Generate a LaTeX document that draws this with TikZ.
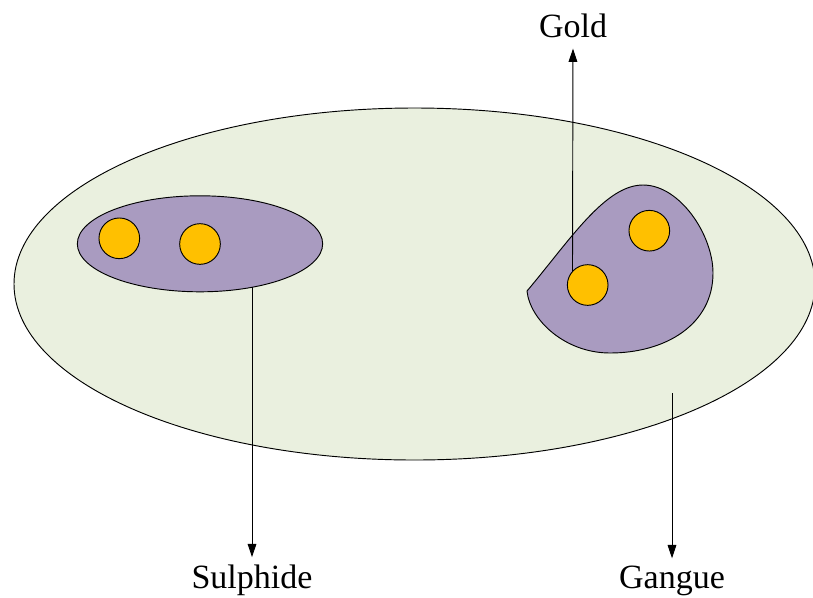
\documentclass[tikz,border=0pt]{standalone}
\usepackage{fontspec}
\setmainfont{Liberation Serif}
\usetikzlibrary{arrows.meta,shapes.geometric}
\definecolor{gangue}{RGB}{234,240,223}
\definecolor{sulph}{RGB}{169,155,192}
\definecolor{gold}{RGB}{255,192,0}
\tikzset{
  outline/.style={draw=black, line width=0.7pt},
  grain/.style={outline, circle, fill=gold, minimum size=30.5pt, inner sep=0pt},
  lbl/.style={inner sep=0pt, anchor=base, font=\fontsize{25.5}{30}\selectfont},
  arr/.style={line width=0.7pt, -{Triangle[length=10pt,width=6.5pt]}},
}
\begin{document}
\begin{tikzpicture}[x=0.75pt,y=-0.75pt]
\useasboundingbox (0,0) rectangle (813,597);
% gangue
\node[outline, ellipse, fill=gangue, minimum width=600.75pt, minimum height=264pt, inner sep=0pt] (big) at (414.5,284) {};
% sulphide ellipse
\node[outline, ellipse, fill=sulph, minimum width=184pt, minimum height=72pt, inner sep=0pt] (small) at (200,243.8) {};
% blob
\path[outline, fill=sulph] (527,291)
  .. controls (570,240) and (605,185) .. (643,185)
  .. controls (680,185) and (713,235) .. (713,273)
  .. controls (713,325) and (665,353) .. (610,353)
  .. controls (565,353) and (530,320) .. (527,291) -- cycle;
% grains
\node[grain] (c1) at (119.3,238.3) {};
\node[grain] (c2) at (200,244) {};
\node[grain] (cA) at (587.7,285) {};
\node[grain] (cB) at (649.3,230.7) {};
% labels
\node[lbl] (gold) at (573,37) {Gold};
\node[lbl] (sul) at (252,588) {Sulphide};
\node[lbl] (gan) at (672,588) {Gangue};
% connectors
\coordinate (sulstart) at (252,287);
\coordinate (ganstart) at (672,393);
\draw[arr, shorten >=8.25pt] (cA.137.6) -- (gold.south);
\draw[arr, shorten >=5.2pt] (sulstart) -- (sul.north);
\draw[arr, shorten >=5.2pt] (ganstart) -- (gan.north);
\end{tikzpicture}
\end{document}
